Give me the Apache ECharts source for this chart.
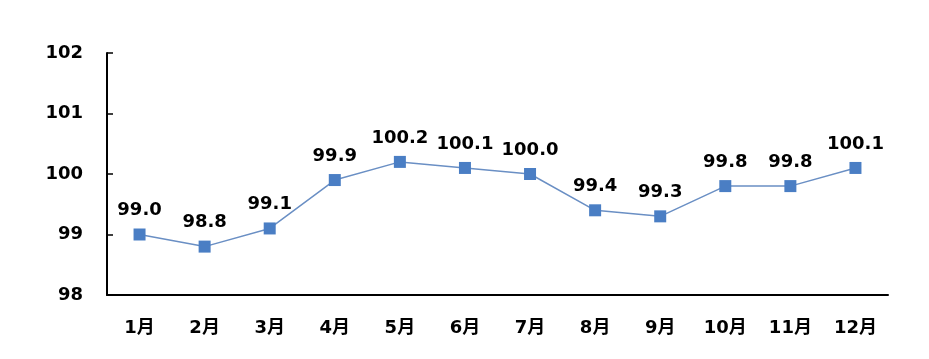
<!DOCTYPE html>
<html><head><meta charset="utf-8">
<script src="https://cdn.jsdelivr.net/npm/echarts@6/dist/echarts.min.js"></script>
<style>html,body{margin:0;padding:0;background:#fff}#c{width:929px;height:359px}</style>
</head><body><div id="c"></div>
<script>
const categories = ['1月','2月','3月','4月','5月','6月','7月','8月','9月','10月','11月','12月'];
const values = [99.0, 98.8, 99.1, 99.9, 100.2, 100.1, 100.0, 99.4, 99.3, 99.8, 99.8, 100.1];
const yMin = 98, yMax = 102, yStep = 1;

const chart = echarts.init(document.getElementById('c'), null, {renderer:'canvas'});
const font = '"DejaVu Sans", "Noto Sans CJK SC", sans-serif';
chart.setOption({
  animation: false,
  backgroundColor: '#fff',
  grid: {left: 107, right: 41, top: 53, bottom: 64},
  xAxis: {
    type: 'category', data: categories, boundaryGap: true,
    axisLine: {lineStyle: {color: '#000', width: 2}},
    axisTick: {inside: true, length: 6, lineStyle: {color: '#000', width: 1.5}},
    axisLabel: {color: '#000', fontSize: 18, fontWeight: 'bold', fontFamily: font, margin: 24}
  },
  yAxis: {
    type: 'value', min: yMin, max: yMax, interval: yStep,
    splitLine: {show: false},
    axisLine: {show: true, lineStyle: {color: '#000', width: 2}},
    axisTick: {show: true, inside: true, length: 6, lineStyle: {color: '#000', width: 1.5}},
    axisLabel: {color: '#000', fontSize: 18, fontWeight: 'bold', fontFamily: font, margin: 24}
  },
  series: [{
    type: 'line', data: values,
    symbol: 'rect', symbolSize: 12,
    lineStyle: {color: '#6a8fc4', width: 1.5},
    itemStyle: {color: '#4a7ec4'},
    label: {show: true, position: 'top', distance: 9, color: '#000', fontSize: 18, fontWeight: 'bold', fontFamily: font,
      formatter: p => p.value.toFixed(1)}
  }]
});
</script></body></html>
